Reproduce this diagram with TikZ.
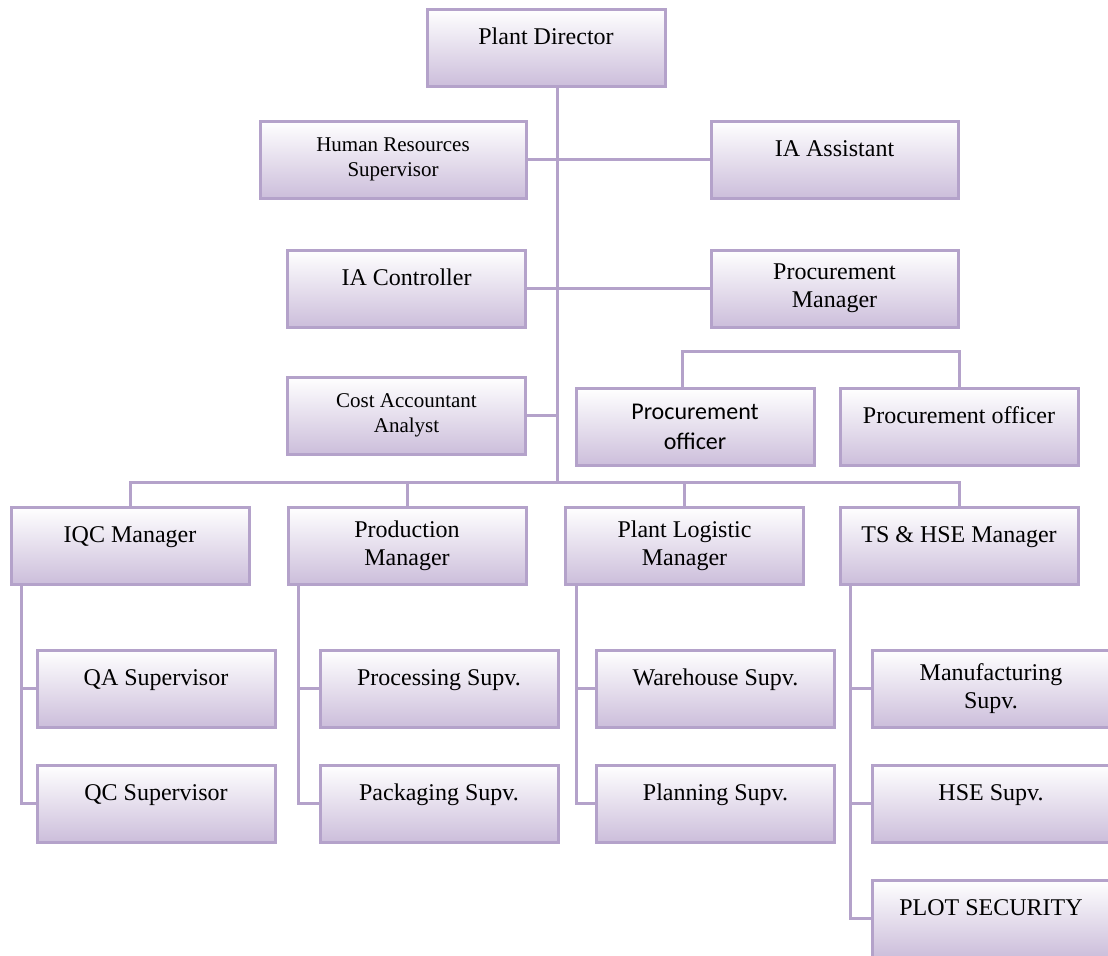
\documentclass[tikz,border=0pt]{standalone}
\usepackage{fontspec}
\setmainfont{Liberation Serif}
\newfontfamily\calibri{Carlito}
\usepackage{tikz}
\usetikzlibrary{positioning,calc}
\definecolor{boxedge}{RGB}{180,162,202}
\definecolor{boxlow}{RGB}{204,190,219}
\tikzset{
  orgbox/.style = {rectangle, draw=boxedge, line width=1.5pt, top color=white, bottom color=boxlow,
    minimum width=119pt, minimum height=38.5pt, inner ysep=4pt, align=center,
    font=\fontsize{12}{14}\selectfont},
  topline/.style = {text height=13.5pt, text depth=17pt},
  smalltext/.style = {font=\fontsize{10.5}{12.5}\selectfont},
  orgedge/.style = {draw=boxedge, line width=1.5pt},
}
\begin{document}
\begin{tikzpicture}[x=0.5pt, y=-0.5pt]
  \useasboundingbox (0,0) rectangle (1108,955);
  % top of the chart
  \node[orgbox, topline] (pd) at (546,47.5) {Plant Director};
  \node[orgbox, smalltext, minimum width=133pt] (hr) at (393,159.5) {Human Resources\\Supervisor};
  \node[orgbox, topline, minimum width=123.5pt] (iaa) at (834.5,159.5) {IA Assistant};
  \node[orgbox, topline] (iac) at (406.5,288.5) {IA Controller};
  \node[orgbox, minimum width=123.5pt] (pm) at (834.5,288.5) {Procurement\\Manager};
  \node[orgbox, smalltext] (cost) at (406.5,415.5) {Cost Accountant\\Analyst};
  \node[orgbox, font=\calibri\fontsize{12}{15}\selectfont] (po1) at (695,427) {Procurement\\officer};
  \node[orgbox, topline] (po2) at (959,427) {Procurement officer};

  % managers
  \node[orgbox, topline] (iqc) at (130,545.5) {IQC Manager};
  \node[orgbox] (prod) at (407,545.5) {Production\\Manager};
  \node[orgbox] (log) at (684.5,545.5) {Plant Logistic\\Manager};
  \node[orgbox, topline] (ts) at (959,545.5) {TS \& HSE Manager};

  % supervisors
  \node[orgbox, topline] (qa) at (156,688.5) {QA Supervisor};
  \node[orgbox, topline] (qc) at (156,803.5) {QC Supervisor};
  \node[orgbox, topline] (proc) at (439,688.5) {Processing Supv.};
  \node[orgbox, topline] (pack) at (439,803.5) {Packaging Supv.};
  \node[orgbox, topline] (wh) at (715.5,688.5) {Warehouse Supv.};
  \node[orgbox, topline] (plan) at (715.5,803.5) {Planning Supv.};
  \node[orgbox] (mfg) at (991,688.5) {Manufacturing\\Supv.};
  \node[orgbox, topline] (hse) at (991,803.5) {HSE Supv.};
  \node[orgbox, topline] (plot) at (991,918.5) {PLOT SECURITY};

  % connectors
  \coordinate (bar) at (557,482);
  \draw[orgedge] (pd.south -| bar) -- (bar);
  \draw[orgedge] (hr) -- (iaa);
  \draw[orgedge] (iac) -- (pm);
  \draw[orgedge] (cost) -- (cost -| bar);
  \draw[orgedge] ([xshift=-6.5pt]po1.north) -- ++(0,-36) -| (po2.north);
  \draw[orgedge] (iqc.north) |- (bar) -| (ts.north);
  \foreach \m in {prod,log}
    \draw[orgedge] (\m.north) -- (\m.north |- bar);
  \foreach \m/\a/\b in {iqc/qa/qc, prod/proc/pack, log/wh/plan, ts/mfg/plot} {
    \draw[orgedge] ([xshift=6pt]\m.south west) |- (\b.west);
    \draw[orgedge] (\a.west) -- ([xshift=6pt]\m.south west |- \a.west);
  }
  \draw[orgedge] (hse.west) -- ([xshift=6pt]ts.south west |- hse.west);
\end{tikzpicture}
\end{document}
